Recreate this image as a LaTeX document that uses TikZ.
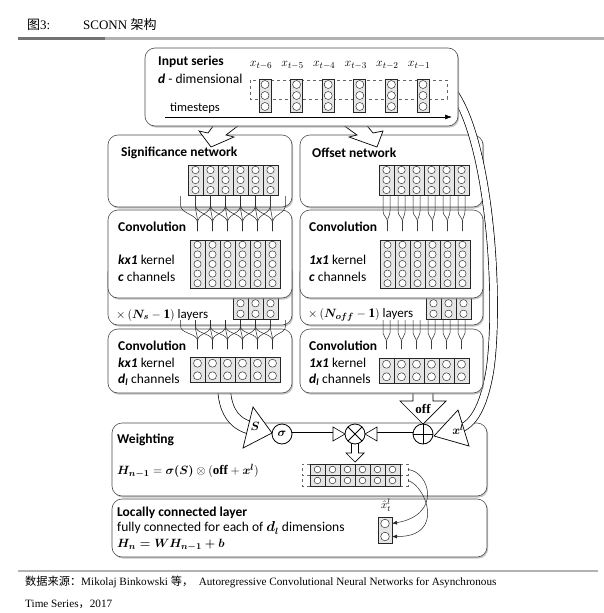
\documentclass[tikz,border=0pt]{standalone}
\usepackage{fontspec}
\usepackage{amsmath}
\setmainfont{Liberation Serif}
\newfontfamily\carl{Carlito}
\newfontfamily\cjk{Noto Sans CJK SC}
\usetikzlibrary{calc,shadows,arrows.meta}

% one column of cells: x, ytop, width, height, number of circles, radius
\newcommand\colm[6]{%
  \draw[colbox] (#1,#2) rectangle ++(#3,#4);
  \foreach \kk in {1,...,#5}{\draw[circ] ({#1+#3/2},{#2+(\kk-0.5)*#4/#5}) circle (#6pt);}%
}
% row of columns: x0, ytop, last index, width, height, ncirc, r
\newcommand\colrow[7]{%
  \foreach \cc in {0,...,#3}{\colm{#1+\cc*#4}{#2}{#4}{#5}{#6}{#7}}%
}
% hollow straight arrow: from, to, shaft half width, head half width, head length
\newcommand\hollowarrow[5]{%
  \path ($(#2)!#5!(#1)$) coordinate (hhx);
  \draw[harrow] ($(#1)!#3!90:(#2)$) -- ($(hhx)!#3!90:(#2)$) -- ($(hhx)!#4!90:(#2)$) -- (#2)
     -- ($(hhx)!#4!-90:(#2)$) -- ($(hhx)!#3!-90:(#2)$) -- ($(#1)!#3!-90:(#2)$);
}

\begin{document}
\begin{tikzpicture}[x=1pt,y=-1pt,
  bx/.style={draw=black!70, line width=0.6pt, fill=white, rounded corners=10pt, inner sep=0pt, outer sep=0pt, anchor=north west, drop shadow={shadow xshift=1.2pt,shadow yshift=-1.6pt,fill=black!45}},
  colbox/.style={draw=black!85, line width=0.8pt, fill=black!10},
  circ/.style={draw=black!85, line width=0.45pt, fill=white},
  yl/.style={draw=black!85, line width=0.5pt},
  harrow/.style={draw=black, line width=0.7pt, fill=white, line join=miter},
  dbl/.style={draw=black, line width=0.7pt, double=white},
  lbl/.style={font=\carl\fontsize{13.5}{15}\selectfont, anchor=west, inner sep=0pt},
  ttl/.style={font=\carl\bfseries\fontsize{13.5}{15}\selectfont, anchor=west, inner sep=0pt},
  opc/.style={circle, draw=black, line width=0.8pt, fill=white, minimum size=20pt, inner sep=0pt},
  txt/.style={anchor=west, inner sep=0pt, font=\fontsize{13}{15}\selectfont},
  ftx/.style={anchor=west, inner sep=0pt, font=\fontsize{11.2}{13}\selectfont},
]
\useasboundingbox (0,0) rectangle (604,613);

% header
\node[ftx, font=\fontsize{13}{15}\selectfont] (fig) at (27,25) {{\cjk 图}3:};
\node[ftx, font=\fontsize{13}{15}\selectfont] (fttl) at (83,25) {SCONN {\cjk 架构}};
\draw[line width=2.5pt, black!30] (18,38.5) -- (604,38.5);
\draw[line width=2.5pt, black!55] (18,38.5) -- (105,38.5);

% footer
\draw[line width=2.5pt, black!30] (18,571) -- (598,571);
\node[ftx] (src) at (25,582) {{\cjk 数据来源：}Mikolaj Binkowski {\cjk 等，}\ \ Autoregressive Convolutional Neural Networks for Asynchronous};
\node[ftx] (src2) at (25,604) {Time Series{\cjk ，}2017};

% weighting and locally connected boxes
\node[bx, minimum width=375pt, minimum height=73pt] (wbox) at (112,423) {};
\node[bx, minimum width=375pt, minimum height=58pt] (lbox) at (112,499) {};
\node[ttl] (wt) at (117,440) {Weighting};
\node[txt] (wf) at (117,471) {$\boldsymbol{H_{n-1}} = \boldsymbol{\sigma(S)}\otimes(\mathbf{off}+\boldsymbol{x^l})$};
\node[ttl] (lt) at (117,513) {Locally connected layer};
\node[lbl] (lf) at (117,528) {fully connected for each of $\boldsymbol{d_l}$ dimensions};
\node[txt, font=\fontsize{12.5}{14}\selectfont] (lh) at (117,545) {$\boldsymbol{H_n = WH_{n-1}+b}$};

% grid in weighting box
\foreach \r in {0,1}{
  \draw[dashed, black!60, line width=0.5pt] (310,{464+11*\r}) -- (302,{464+11*\r}) -- (302,{475+11*\r}) -- (310,{475+11*\r});
  \draw[dashed, black!60, line width=0.5pt] (400,{464+11*\r}) -- (408,{464+11*\r}) -- (408,{475+11*\r}) -- (400,{475+11*\r});
  \colrow{310}{464+11*\r}{5}{15}{11}{1}{3.3}
}
\coordinate (g1) at (408,469.5);
\coordinate (g2) at (408,480.5);
\colm{378}{517}{14}{26}{2}{4.3}
\coordinate (h1) at (392,523.5);
\coordinate (h2) at (392,536.5);
\draw[yl, -{Latex[length=5pt,width=4pt]}] (g1) .. controls (430,472) and (442,515) .. (h1);
\draw[yl, -{Latex[length=5pt,width=4pt]}] (g2) .. controls (426,486) and (446,537) .. (h2);
\node[inner sep=0pt, font=\fontsize{11}{12}\selectfont] (xh) at (386,505) {$\hat{x}_t^{l}$};

% significance / offset network boxes
\node[bx, minimum width=184pt, minimum height=72pt] (sigb) at (108,135) {};
\node[bx, minimum width=183pt, minimum height=72pt] (offb) at (300,135) {};
\node[ttl] (sigt) at (121,153) {Significance network};
\node[ttl] (offt) at (312,153) {Offset network};
\colrow{188}{165}{5}{15}{30}{3}{3.7}
\colrow{379}{165}{5}{15}{30}{3}{3.7}

% stacked layers boxes
\node[bx, minimum width=184pt, minimum height=63pt] (lay1) at (108,262) {};
\node[bx, minimum width=183pt, minimum height=63pt] (lay2) at (300,262) {};
\colrow{233}{277}{2}{15}{42}{4}{3.7}
\colrow{426}{277}{2}{15}{42}{4}{3.7}
\node[lbl, font=\carl\fontsize{13}{15}\selectfont] (lay1t) at (116,315) {$\times\,(\boldsymbol{N_s}-\mathbf{1})$ layers};
\node[lbl, font=\carl\fontsize{13}{15}\selectfont] (lay2t) at (308,315) {$\times\,(\boldsymbol{N_{off}}-\mathbf{1})$ layers};

% first convolution boxes
\node[bx, minimum width=184pt, minimum height=88pt] (c1a) at (108,210) {};
\node[bx, minimum width=183pt, minimum height=88pt] (c1b) at (300,210) {};
\colrow{190}{240}{5}{15}{48}{5}{3.6}
\colrow{380}{240}{5}{15}{48}{5}{3.6}
\node[ttl] (c1at) at (118,227) {Convolution};
\node[lbl] (c1ak) at (118,260) {{\bfseries\itshape kx1} kernel};
\node[lbl] (c1ac) at (118,277) {{\bfseries\itshape c} channels};
\node[ttl] (c1bt) at (309,227) {Convolution};
\node[lbl] (c1bk) at (309,260) {{\bfseries\itshape 1x1} kernel};
\node[lbl] (c1bc) at (309,277) {{\bfseries\itshape c} channels};

% kernel connections, significance -> convolution
\foreach \i in {0,...,5}{\foreach \d in {-1,0,1}{
  \pgfmathsetmacro\xi{197.5+15*\i}\pgfmathsetmacro\xj{195.5+15*\i+15*\d}
  \draw[yl] (\xj,196) -- (\xj,205) .. controls (\xj,214) and (\xi,214) .. (\xi,223) -- (\xi,231);
}}
\foreach \i in {0,...,5}{\foreach \d in {-1,1}{
  \pgfmathsetmacro\xi{387.5+15*\i}\pgfmathsetmacro\xj{386.5+15*\i+3.5*\d}
  \draw[yl] (\xj,196) -- (\xj,211) .. controls (\xj,216) and (\xi,217) .. (\xi,222) -- (\xi,231);
}}

% big hollow arrows from the input series
\draw[harrow] (216,122) -- (208,133) -- (199,131) -- (211,147) -- (234,137) -- (226,135) -- (243,122);
\draw[harrow] (339,122) -- (357,135) -- (349,137) -- (377,147) -- (383,131) -- (373,133) -- (364,122);

% x^l arrow
\draw[dbl, double distance=7pt] (452,90) .. controls (490,140) and (500,300) .. (490,370) .. controls (485,400) and (476,423) .. (460,428.5);
\draw[harrow] (458,410) -- (434,436) -- (469,446) -- cycle;
\node[inner sep=0pt, font=\fontsize{12}{13}\selectfont] (xl) at (458,430) {$\boldsymbol{x^l}$};

% S arrow
\draw[dbl, double distance=12pt] (224,385) .. controls (224,410) and (234,424) .. (251,428);
\draw[harrow] (253,407) -- (272,433) -- (243,448) -- cycle;
\node[inner sep=0pt, font=\fontsize{12.5}{13}\selectfont] (sl) at (255,426) {$\boldsymbol{S}$};

% off arrow
\coordinate (offs) at (423,385); \coordinate (offe) at (423,424);
\hollowarrow{offs}{offe}{10pt}{23pt}{23pt}
\node[inner sep=0pt, font=\bfseries\fontsize{13}{14}\selectfont] (offl) at (423,409) {off};

% input series box
\node[bx, minimum width=313pt, minimum height=78pt] (inp) at (145,48) {};
\node[ttl] (inpt) at (158,62) {Input series};
\node[lbl] (inpd) at (158,79) {{\bfseries\itshape d} - dimensional};
\draw[dashed, black!60, line width=0.5pt] (250,80) rectangle (447,99);
\foreach \i/\n in {0/6,1/5,2/4,3/3,4/2,5/1}{
  \colm{259+31.6*\i}{79}{12}{33}{3}{4}
  \node[inner sep=0pt, font=\fontsize{13}{14}\selectfont] at ({261+31.6*\i},65) {$x_{t-\n}$};
}
\node[lbl, font=\carl\fontsize{12.5}{14}\selectfont] (ts) at (170,108) {timesteps};
\coordinate (ts0) at (165,117); \coordinate (ts1) at (452,117);
\draw[line width=0.6pt, -{Latex[length=7pt,width=5pt]}] (ts0) -- (ts1);

% second convolution boxes
\node[bx, minimum width=184pt, minimum height=64pt] (c2a) at (108,329) {};
\node[bx, minimum width=183pt, minimum height=64pt] (c2b) at (300,329) {};
\colrow{190}{357}{5}{15}{25}{2}{4}
\colrow{379}{358}{5}{15}{25}{2}{4}
\node[ttl] (c2at) at (118,346) {Convolution};
\node[lbl] (c2ak) at (118,363) {{\bfseries\itshape kx1} kernel};
\node[lbl] (c2ac) at (118,380) {{\bfseries\itshape d\textsubscript{l}} channels};
\node[ttl] (c2bt) at (309,346) {Convolution};
\node[lbl] (c2bk) at (309,363) {{\bfseries\itshape 1x1} kernel};
\node[lbl] (c2bc) at (309,380) {{\bfseries\itshape d\textsubscript{l}} channels};

\foreach \i in {0,...,5}{\foreach \d in {-1,0,1}{
  \pgfmathsetmacro\xi{197.5+15*\i}\pgfmathsetmacro\xj{195.5+15*\i+15*\d}
  \draw[yl] (\xj,320) -- (\xj,326) .. controls (\xj,334) and (\xi,333) .. (\xi,341) -- (\xi,349);
}}
\foreach \i in {0,...,5}{\foreach \d in {-1,1}{
  \pgfmathsetmacro\xi{386.5+15*\i}\pgfmathsetmacro\xj{386.5+15*\i+3.5*\d}
  \draw[yl] (\xj,320) -- (\xj,333) .. controls (\xj,337) and (\xi,337) .. (\xi,342) -- (\xi,349);
}}

% operators
\coordinate (sige) at (292,434);
\coordinate (mulw) at (345,434);
\coordinate (mule) at (365,434);
\coordinate (adw) at (413,434);
\coordinate (muls) at (355,441);
\coordinate (dn) at (355,462);
\draw[dbl, double distance=3pt, line width=0.6pt] (sige) -- ($(mulw)+(-11.5,0)$);
\draw[harrow, line width=0.6pt] ($(mulw)+(-12,-7)$) -- (mulw) -- ($(mulw)+(-12,7)$) -- cycle;
\draw[dbl, double distance=3pt, line width=0.6pt] (adw) -- ($(mule)+(11.5,0)$);
\draw[harrow, line width=0.6pt] ($(mule)+(12,-7)$) -- (mule) -- ($(mule)+(12,7)$) -- cycle;
\hollowarrow{muls}{dn}{3.5pt}{9pt}{9pt}

\node[opc, font=\fontsize{12}{13}\selectfont] (sig) at (282,434) {$\boldsymbol{\sigma}$};
\node[opc, path picture={\draw[line width=0.8pt] (path picture bounding box.north west) -- (path picture bounding box.south east) (path picture bounding box.north east) -- (path picture bounding box.south west);}] (mul) at (355,434) {};
\node[opc, path picture={\draw[line width=0.8pt] (path picture bounding box.north) -- (path picture bounding box.south) (path picture bounding box.west) -- (path picture bounding box.east);}] (add) at (423,434) {};
\end{tikzpicture}
\end{document}
